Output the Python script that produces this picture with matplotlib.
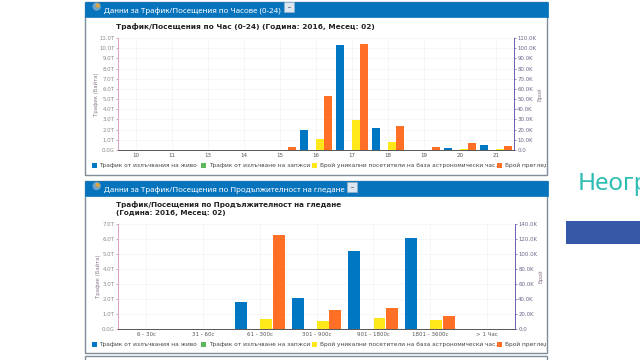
import matplotlib
matplotlib.use("Agg")
import matplotlib.pyplot as plt
from matplotlib.patches import Rectangle, Circle
from matplotlib.ticker import FuncFormatter
import numpy as np

plt.rcParams["font.family"] = ["DejaVu Sans"]

# --- DATA ---
hours = ["10", "11", "13", "14", "15", "16", "17", "18", "19", "20", "21"]
hour_live = [0.01, 0.01, 0.01, 0.01, 0.01, 2.0, 10.27, 2.2, 0.03, 0.2, 0.45]
hour_rec = [0, 0, 0, 0, 0, 0, 0, 0, 0, 0, 0]
hour_uniq = [0.3, 0.4, 0.3, 0.3, 0.3, 11.0, 29.0, 7.5, 0.3, 1.0, 1.0]
hour_views = [0.1, 0.1, 0.1, 0.1, 2.5, 52.6, 104.0, 24.0, 2.5, 6.5, 4.0]

durations = ["6 - 30с", "31 - 60с", "61 - 300с", "301 - 900с", "901 - 1800с", "1801 - 3600с", "> 1 Час"]
dur_live = [0.01, 0.01, 1.8, 2.07, 5.17, 6.07, 0.01]
dur_rec = [0, 0, 0, 0, 0, 0, 0]
dur_uniq = [0.4, 0.4, 13.3, 11.0, 14.7, 12.4, 0.5]
dur_views = [0.1, 0.3, 125.0, 25.8, 27.5, 17.3, 0.5]

legend_labels = [
    "Трафик от излъчвания на живо",
    "Трафик от излъчване на запжси",
    "Брой уникални посетители на база астрономически час.",
    "Брой прегледи",
]
c_live, c_rec, c_uniq, c_views = "#0077c2", "#5cb85c", "#ffe81a", "#ff7026"
c_head = "#0673bd"
W, H = 640, 360


def add_ax(x0, x1, ytop, ybot):
    return fig.add_axes([x0 / W, 1 - ybot / H, (x1 - x0) / W, (ybot - ytop) / H])


def draw_chart(box, cats, live, rec, uniq, views, left_max, right_max, right_step):
    ax = add_ax(*box)
    x = np.arange(len(cats))
    w, off = 0.21, 0.222
    ax.bar(x - 1.5 * off, live, w, color=c_live)
    ax.bar(x - 0.5 * off, rec, w, color=c_rec)
    ax.set_xlim(-0.5, len(cats) - 0.5)
    ax.set_ylim(0, left_max)
    ax.set_yticks(np.arange(0, left_max + 0.5, 1))
    ax.yaxis.set_major_formatter(FuncFormatter(lambda v, p: "0.0G" if v == 0 else f"{v:.1f}T"))
    ax.set_xticks(x)
    ax.set_xticklabels(cats)
    ax.grid(True, color="#f1f3f6", linewidth=0.5)
    ax.set_axisbelow(True)
    ax.set_ylabel("Трафик (Байта)", fontsize=3.8, color="#8a7a8c", labelpad=0.5)
    ax.tick_params(axis="x", labelsize=4.0, length=0, pad=2, labelcolor="#555555")
    ax.tick_params(axis="y", labelsize=3.9, length=1.5, width=0.5, pad=0.8,
                   labelcolor="#888888", color="#c080a0")

    ax2 = ax.twinx()
    ax2.bar(x + 0.5 * off, uniq, w, color=c_uniq)
    ax2.bar(x + 1.5 * off, views, w, color=c_views)
    ax2.set_ylim(0, right_max)
    ax2.set_yticks(np.arange(0, right_max + 1, right_step))
    ax2.yaxis.set_major_formatter(FuncFormatter(lambda v, p: "0.0" if v == 0 else f"{v:.1f}K"))
    ax2.set_ylabel("Брой", fontsize=3.8, color="#8a7a8c", labelpad=1)
    ax2.tick_params(axis="y", labelsize=3.9, length=1.5, width=0.5, pad=0.8,
                    labelcolor="#666688", color="#6a5fb0")

    for a in (ax, ax2):
        for s in ("top", "right", "left"):
            a.spines[s].set_visible(False)
        a.spines["bottom"].set_linewidth(0.6)
        a.spines["bottom"].set_color("#555555")
    ax2.spines["right"].set_visible(True)
    ax2.spines["right"].set_color("#6a5fb0")
    ax2.spines["right"].set_linewidth(0.7)
    ax2.spines["left"].set_visible(True)
    ax2.spines["left"].set_color("#d9a0c0")
    ax2.spines["left"].set_linewidth(0.7)
    ax.patch.set_alpha(0)
    ax2.patch.set_alpha(0)


def draw_panel(bg, y0, y1, header, titles, title_y, title_size):
    bg.add_patch(Rectangle((85, y0), 461.5, y1 - y0, fc="white", ec="#7f8c99", lw=1))
    bg.add_patch(Rectangle((85, y0), 463, 15, fc=c_head, ec=c_head, lw=0.5))
    bg.add_patch(Circle((96.7, y0 + 5), 4.2, fc="#6fa3c9", ec="none"))
    bg.add_patch(Circle((97.7, y0 + 4), 2.2, fc="#d9a441", ec="none"))
    bg.text(104.5, y0 + 9.5, header, color="white", fontsize=5.7, fontweight="bold",
            family="Noto Sans", va="center")
    for t, ty in zip(titles, title_y):
        bg.text(116.5, ty, t, color="#222222", fontsize=title_size, fontweight="bold", va="center")


# --- PLOT ---
fig = plt.figure(figsize=(6.4, 3.6), dpi=100)
bg = fig.add_axes([0, 0, 1, 1])
bg.set_xlim(0, W)
bg.set_ylim(H, 0)
bg.axis("off")

draw_panel(bg, 1.5, 175, "Данни за Трафик/Посещения по Часове (0-24)",
           ["Трафик/Посещения по Час (0-24) (Година: 2016, Месец: 02)"], [26], 5.32)
draw_panel(bg, 181, 353, "Данни за Трафик/Посещения по Продължителност на гледане",
           ["Трафик/Посещения по Продължителност на гледане", "(Година: 2016, Месец: 02)"],
           [205, 212.7], 5.2)
bg.add_patch(Rectangle((85, 355.5), 461.5, 10, fc="white", ec="#7f8c99", lw=1))

# collapse buttons in the headers
for bx, by in [(284, 2), (347, 182)]:
    bg.add_patch(Rectangle((bx, by), 9.5, 9.5, fc="#dce6f0", ec="#9fb4c8", lw=0.4))
    bg.plot([bx + 3.5, bx + 6], [by + 5, by + 5], color="#555555", lw=0.5)

# legends
for ly in (165.5, 344.5):
    xs = [91.5, 200.7, 312, 497]
    for lx, col, lab in zip(xs, [c_live, c_rec, c_uniq, c_views], legend_labels):
        bg.add_patch(Rectangle((lx, ly - 2.5), 5, 5, fc=col, ec="none"))
        t = bg.text(lx + 8, ly, lab, fontsize=4.25, color="#444444", va="center")
        t.set_clip_on(True)
        t.set_clip_path(Rectangle((85, ly - 6), 461, 12, transform=bg.transData))

# right side of the slide
bg.text(578, 190, "Неогр", color="#2dbdb3", fontsize=17.5, family="Noto Sans", va="baseline", clip_on=True)
bg.add_patch(Rectangle((565.5, 220.5), 75, 23.5, fc="#3558a8", ec="none"))

draw_chart((118, 514, 38, 150), hours, hour_live, hour_rec, hour_uniq, hour_views, 11, 110, 10)
draw_chart((118, 515, 224, 329), durations, dur_live, dur_rec, dur_uniq, dur_views, 7, 140, 20)

fig.savefig("out.png", dpi=100)
